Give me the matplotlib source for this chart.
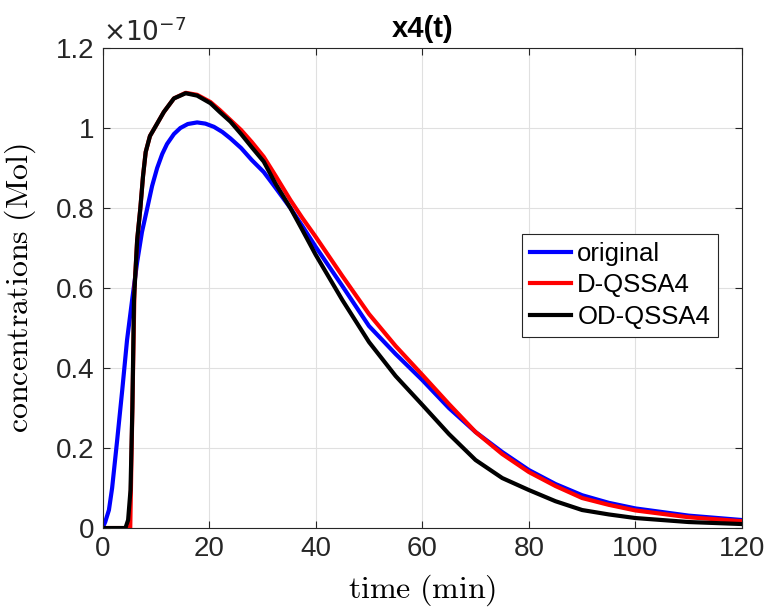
import matplotlib.pyplot as plt
from matplotlib.ticker import FuncFormatter

plt.rcParams['font.family'] = ['Liberation Sans', 'DejaVu Sans']
plt.rcParams['mathtext.fontset'] = 'cm'

# values in units of 1e-7 Mol
t_orig = [0, 0.5, 1.2, 1.8, 2.75, 3.7, 4.6, 5.6, 6.5, 7.4, 8.4, 9.3, 10.25, 11.2, 12.1, 13.4,
          14.6, 16, 17.75, 19.3, 20.9, 22.5, 24, 26, 28, 30.25, 32.5, 35.25, 37.5, 40, 45,
          50, 55, 60, 65, 70, 75, 80, 85, 90, 95, 100, 110, 120]
x_orig = [0, 0.015, 0.045, 0.10, 0.22, 0.345, 0.47, 0.575, 0.665, 0.74, 0.80, 0.855, 0.90,
          0.935, 0.96, 0.985, 1.0, 1.01, 1.014, 1.011, 1.003, 0.99, 0.974, 0.95, 0.92, 0.89,
          0.85, 0.80, 0.755, 0.703, 0.605, 0.505, 0.435, 0.37, 0.30, 0.24, 0.19, 0.145, 0.11,
          0.082, 0.063, 0.049, 0.031, 0.02]

t_d = [0, 5.2, 5.6, 6.0, 6.5, 7.1, 7.6, 8.1, 8.9, 9.9, 11.5, 13.4, 15.6, 17.75, 20.25, 22,
       24, 26, 28, 30.25, 32.5, 35.25, 37.5, 40, 45, 50, 55, 60, 65, 70, 75, 80, 85, 90, 95,
       100, 110, 120]
x_d = [0, 0, 0.30, 0.60, 0.72, 0.80, 0.88, 0.94, 0.98, 1.003, 1.04, 1.074, 1.088, 1.083,
       1.065, 1.045, 1.02, 0.995, 0.965, 0.928, 0.88, 0.82, 0.775, 0.728, 0.63, 0.535, 0.455,
       0.383, 0.31, 0.24, 0.185, 0.14, 0.105, 0.075, 0.058, 0.044, 0.027, 0.017]

t_od = [0, 4.3, 4.8, 5.25, 5.6, 5.9, 6.5, 7.1, 7.6, 8.1, 8.9, 9.9, 11.5, 13.4, 15.6, 17.75,
        20.25, 22, 24, 26, 28, 30.25, 32.5, 35.25, 37.5, 40, 45, 50, 55, 60, 65, 70, 75, 80,
        85, 90, 95, 100, 110, 120]
x_od = [0, 0, 0.02, 0.095, 0.30, 0.57, 0.72, 0.80, 0.88, 0.94, 0.98, 1.003, 1.04, 1.074,
        1.087, 1.081, 1.062, 1.04, 1.016, 0.985, 0.952, 0.916, 0.86, 0.80, 0.745, 0.683,
        0.57, 0.465, 0.38, 0.308, 0.235, 0.17, 0.125, 0.095, 0.067, 0.045, 0.034, 0.025,
        0.015, 0.01]

fig = plt.figure(figsize=(7.68, 6.14), dpi=100)
ax = fig.add_axes([0.1335, 0.140, 0.8327, 0.7818])

ax.plot(t_orig, x_orig, color='#0000ff', lw=3, label='original')
ax.plot(t_d, x_d, color='#ff0000', lw=3, label='D-QSSA4')
ax.plot(t_od, x_od, color='black', lw=3, label='OD-QSSA4')

ax.set_xlim(0, 120)
ax.set_ylim(0, 1.2)
ax.set_xticks(range(0, 121, 20))
ax.set_yticks([0, 0.2, 0.4, 0.6, 0.8, 1.0, 1.2])
ax.yaxis.set_major_formatter(FuncFormatter(lambda v, p: '%g' % round(v, 2)))

ax.grid(True, color='#e0e0e0', lw=0.8)
ax.set_axisbelow(True)
for s in ax.spines.values():
    s.set_color('#262626')
    s.set_linewidth(0.8)
ax.tick_params(direction='in', top=True, right=True, labelsize=20, colors='#262626',
               length=5, labelcolor='#262626', pad=6)

ax.text(0.0, 1.005, r'$\times10^{-7}$', transform=ax.transAxes, fontsize=19,
        ha='left', va='bottom', math_fontfamily='dejavusans', color='#262626')
ax.set_title('x4(t)', fontsize=21, fontweight='bold', pad=8)
ax.set_xlabel(r'$\mathrm{time\ (min)}$', fontsize=23, labelpad=7)
ax.set_ylabel(r'$\mathrm{concentrations\ (Mol)}$', fontsize=23, labelpad=13)

leg = ax.legend(loc='upper left', bbox_to_anchor=(0.656, 0.6125), fontsize=18.5,
                frameon=True, fancybox=False, edgecolor='#262626', framealpha=1,
                handlelength=1.6, handletextpad=0.25, borderpad=0.3, labelspacing=0.3,
                borderaxespad=0)
leg.get_frame().set_linewidth(0.8)

fig.savefig('out.png', dpi=100)
